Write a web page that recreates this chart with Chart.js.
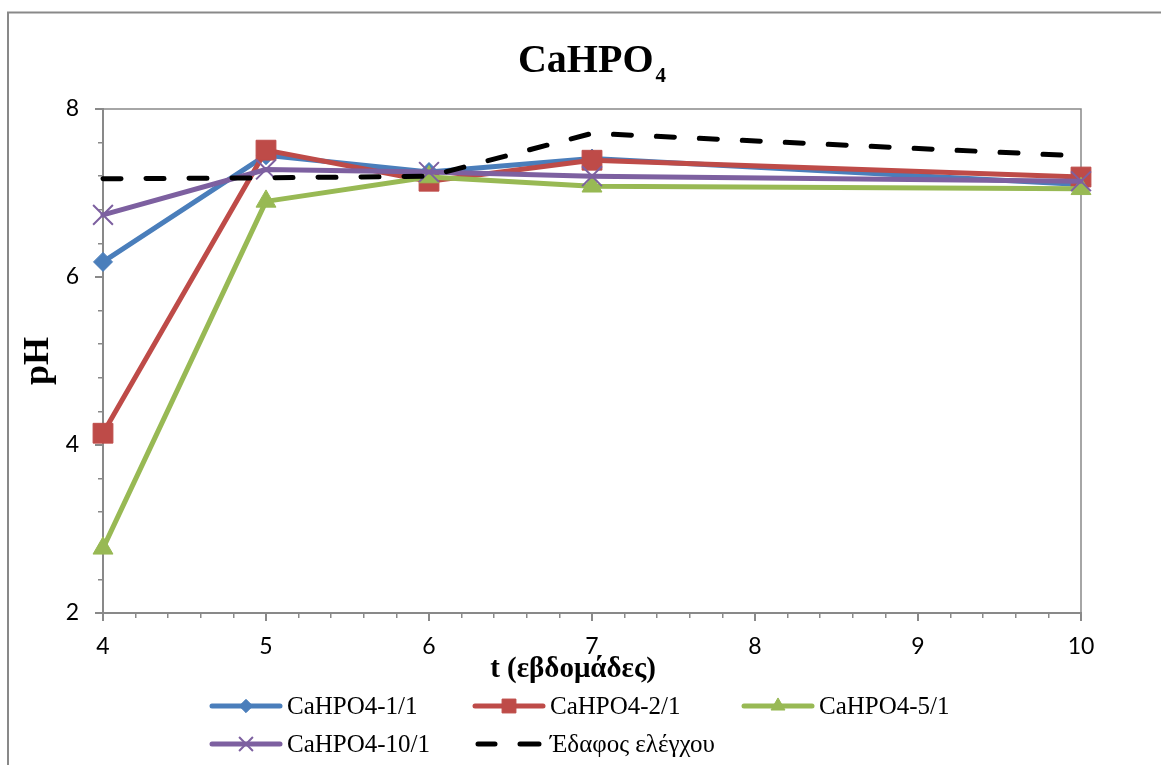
<!DOCTYPE html>
<html><head><meta charset="utf-8">
<script src="https://cdn.jsdelivr.net/npm/chart.js@4.4.0/dist/chart.umd.min.js"></script>
<style>html,body{margin:0;padding:0;background:#fff;}#wrap{width:1161px;height:765px;position:relative;}</style>
</head><body><div id="wrap"><canvas id="c" width="1161" height="765"></canvas></div>
<script>
// ---- data ----
const weeks = [4, 5, 6, 7, 10];
const ph_1_1 = [6.18, 7.45, 7.25, 7.41, 7.10];
const ph_2_1 = [4.14, 7.51, 7.14, 7.39, 7.19];
const ph_5_1 = [2.77, 6.90, 7.19, 7.08, 7.05];
const ph_10_1 = [6.74, 7.28, 7.25, 7.20, 7.14];
const ph_control = [7.17, 7.18, 7.20, 7.71, 7.44];
const seriesNames = ['CaHPO4-1/1', 'CaHPO4-2/1', 'CaHPO4-5/1', 'CaHPO4-10/1', 'Έδαφος ελέγχου'];
const xTicks = [4, 5, 6, 7, 8, 9, 10];
const yTicks = [2, 4, 6, 8];
const titleMain = 'CaHPO', titleSub = '4';
const xTitle = 't (εβδομάδες)', yTitle = 'pH';

// ---- styles ----
const colors = ['#4A7EBB', '#BE4B48', '#98B954', '#7D60A0', '#000000'];
const styles = [
  {pointStyle: 'rectRot', r: 9.5},
  {pointStyle: 'rect', r: 14},
  {pointStyle: 'triangle', r: 11.5},
  {pointStyle: 'crossRot', r: 14},
  {pointStyle: false, r: 0}
];
const seriesValues = [ph_1_1, ph_2_1, ph_5_1, ph_10_1, ph_control];
const GREY = '#898989';
const serif = "'Liberation Serif', 'Times New Roman', serif";

const datasets = seriesValues.map((vals, i) => ({
  label: seriesNames[i],
  data: weeks.map((w, k) => ({x: w, y: vals[k]})),
  borderColor: colors[i],
  backgroundColor: colors[i],
  borderWidth: 5,
  borderCapStyle: 'round',
  borderJoinStyle: 'round',
  borderDash: i === 4 ? [18, 25] : [],
  pointStyle: styles[i].pointStyle,
  pointRadius: styles[i].r,
  pointHoverRadius: styles[i].r,
  pointBorderWidth: i === 3 ? 2 : 1,
  pointBorderColor: colors[i],
  pointBackgroundColor: colors[i],
  tension: 0,
  clip: false,
  order: 5 - i
}));

const framePlugin = {
  id: 'frame',
  beforeDraw(chart) {
    const ctx = chart.ctx;
    ctx.save();
    ctx.fillStyle = '#ffffff';
    ctx.fillRect(0, 0, chart.width, chart.height);
    ctx.strokeStyle = GREY;
    ctx.lineWidth = 2;
    ctx.strokeRect(8, 12.5, 1300, 900);
    ctx.restore();
  },
  beforeDatasetsDraw(chart) {
    const {ctx, chartArea: a} = chart;
    ctx.save();
    ctx.strokeStyle = GREY;
    ctx.lineWidth = 1.5;
    ctx.beginPath();
    ctx.moveTo(a.left, a.top);
    ctx.lineTo(a.right, a.top);
    ctx.lineTo(a.right, a.bottom);
    ctx.stroke();
    ctx.restore();
  },
  afterDraw(chart) {
    const {ctx, chartArea: a} = chart;
    ctx.save();
    // title with subscript
    ctx.fillStyle = '#000';
    ctx.textBaseline = 'alphabetic';
    ctx.font = "bold 40px " + serif;
    const w1 = ctx.measureText(titleMain).width;
    ctx.font = "bold 21px " + serif;
    const w2 = ctx.measureText(titleSub).width;
    const cx = (a.left + a.right) / 2;
    let x0 = cx - (w1 + w2 + 2) / 2;
    ctx.font = "bold 40px " + serif;
    ctx.textAlign = 'left';
    ctx.fillText(titleMain, x0, 72);
    ctx.font = "bold 21px " + serif;
    ctx.fillText(titleSub, x0 + w1 + 2, 82);

    // x axis title
    ctx.font = "bold 29px " + serif;
    ctx.textAlign = 'center';
    ctx.textBaseline = 'alphabetic';
    ctx.fillText(xTitle, 573, 677);

    // legend
    const pos = [[210, 706], [473, 706], [742, 706], [210, 744], [473, 744]];
    chart.data.datasets.forEach((ds, i) => {
      const [lx, ly] = pos[i];
      ctx.save();
      ctx.strokeStyle = ds.borderColor;
      ctx.lineWidth = 5;
      ctx.lineCap = 'round';
      ctx.beginPath();
      if (ds.borderDash.length) {
        ctx.moveTo(lx + 5, ly); ctx.lineTo(lx + 22, ly);
        ctx.moveTo(lx + 47, ly); ctx.lineTo(lx + 66, ly);
      } else {
        ctx.moveTo(lx + 2, ly); ctx.lineTo(lx + 70, ly);
      }
      ctx.stroke();
      ctx.restore();
      if (ds.pointStyle) {
        ctx.save();
        ctx.fillStyle = ds.pointBackgroundColor;
        ctx.strokeStyle = ds.pointBorderColor;
        ctx.lineWidth = ds.pointBorderWidth;
        Chart.helpers.drawPoint(ctx, {pointStyle: ds.pointStyle, radius: ds.pointRadius * 0.7, rotation: 0, borderWidth: ds.pointBorderWidth}, lx + 36, ly);
        ctx.restore();
      }
      ctx.fillStyle = '#000';
      ctx.font = "25px " + serif;
      ctx.textAlign = 'left';
      ctx.textBaseline = 'middle';
      ctx.fillText(ds.label, lx + 77, ly + 1);
    });
    ctx.restore();
  }
};

const tickFont = {family: "Lato, 'Open Sans', sans-serif", size: 23};

new Chart(document.getElementById('c'), {
  type: 'line',
  data: {datasets},
  plugins: [framePlugin],
  options: {
    responsive: false,
    animation: false,
    devicePixelRatio: 1,
    layout: {padding: {left: 0, right: 80, top: 109, bottom: 82}},
    plugins: {legend: {display: false}, title: {display: false}, tooltip: {enabled: false}},
    scales: {
      x: {
        type: 'linear', position: 'bottom', min: 4, max: 10,
        afterBuildTicks: s => { s.ticks = xTicks.map(v => ({value: v})); },
        afterFit: s => { s.height = 70; },
        ticks: {font: tickFont, color: '#000', padding: 12, maxRotation: 0},
        grid: {drawOnChartArea: false, drawTicks: true, tickLength: 8, color: GREY, lineWidth: 2},
        border: {display: true, color: GREY, width: 2},
        title: {display: false}
      },
      y: {
        type: 'linear', position: 'left', min: 2, max: 8,
        afterBuildTicks: s => { s.ticks = yTicks.map(v => ({value: v})); },
        afterFit: s => { s.width = 103; },
        ticks: {font: tickFont, color: '#000', padding: 16},
        grid: {drawOnChartArea: false, drawTicks: true, tickLength: 8, color: GREY, lineWidth: 2},
        border: {display: true, color: GREY, width: 2},
        title: {display: true, text: yTitle, color: '#000', font: {family: serif, size: 36, weight: 'bold'}, padding: {top: 17, bottom: 0}}
      },
      xMinor: {
        type: 'linear', position: {y: 2}, min: 4, max: 10,
        ticks: {display: false, stepSize: 0.2},
        grid: {drawOnChartArea: false, drawTicks: true, tickLength: 5, color: GREY, lineWidth: 1.5},
        border: {display: false}
      },
      yMinor: {
        type: 'linear', position: {x: 4}, min: 2, max: 8,
        ticks: {display: false, stepSize: 0.4},
        grid: {drawOnChartArea: false, drawTicks: true, tickLength: 5, color: GREY, lineWidth: 1.5},
        border: {display: false}
      }
    }
  }
});
</script>
</body></html>
